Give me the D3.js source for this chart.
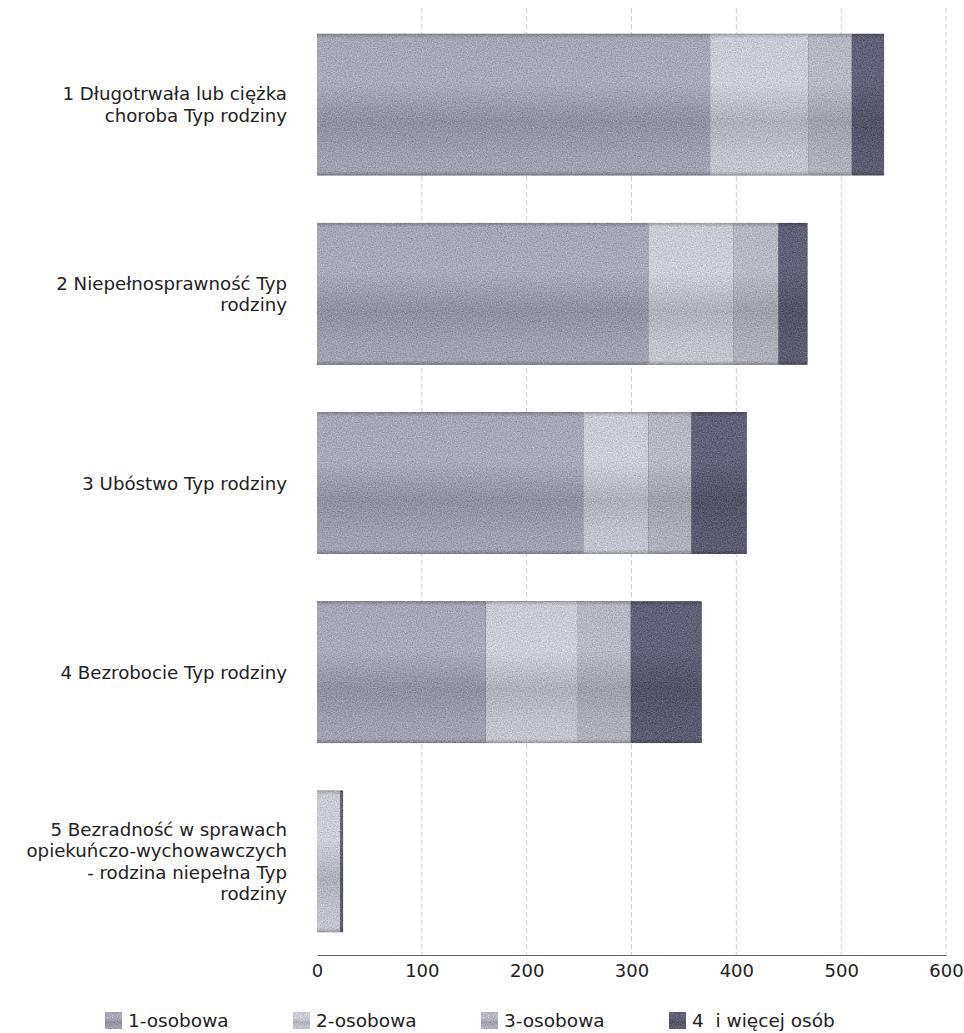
<!DOCTYPE html>
<html>
<head>
<meta charset="utf-8">
<script src="https://cdn.jsdelivr.net/npm/d3@7"></script>
<style>
  html, body { margin: 0; padding: 0; background: #fff; }
  svg { display: block; }
  text { font-family: "DejaVu Sans", "Noto Sans", sans-serif; fill: #222; }
</style>
</head>
<body>
<svg id="chart" width="964" height="1033"></svg>
<script>
// ---- data ----
const categories = [
  ["1 Długotrwała lub ciężka", "choroba Typ rodziny"],
  ["2 Niepełnosprawność Typ", "rodziny"],
  ["3 Ubóstwo Typ rodziny"],
  ["4 Bezrobocie Typ rodziny"],
  ["5 Bezradność w sprawach", "opiekuńczo-wychowawczych", "- rodzina niepełna Typ", "rodziny"]
];
const seriesNames = ["1-osobowa", "2-osobowa", "3-osobowa", "4  i więcej osób"];
const osoba1 = [375, 316, 254, 161, 0];
const osoba2 = [94, 81, 62, 87, 22];
const osoba3 = [41, 43, 41, 51, 0];
const osoba4plus = [31, 28, 53, 68, 3];
const xTicks = [0, 100, 200, 300, 400, 500, 600];

const seriesValues = [osoba1, osoba2, osoba3, osoba4plus];
const seriesColors = ["#9f9fae", "#c2c2cc", "#afafbb", "#5c5c71"];

// ---- build table ----
const catKeys = categories.map((c, i) => "c" + i);
const table = catKeys.map((k, i) => {
  const row = { key: k };
  seriesNames.forEach((s, j) => row[s] = seriesValues[j][i]);
  return row;
});
const stacked = d3.stack().keys(seriesNames)(table);

const svg = d3.select("#chart");

// ---- scales ----
const x = d3.scaleLinear().domain([0, 600]).range([317, 946]);
const y = d3.scaleBand().domain(catKeys).range([10, 956]).paddingInner(0.25).paddingOuter(0.125);

// ---- defs: gradients + grain ----
const defs = svg.append("defs");
seriesColors.forEach((c, i) => {
  const base = d3.color(c);
  const g = defs.append("linearGradient").attr("id", "grad" + i)
    .attr("x1", 0).attr("y1", 0).attr("x2", 0).attr("y2", 1);
  const stops = [
    [0, base.darker(0.6)],
    [0.03, base.brighter(0.12)],
    [0.35, base.brighter(0.18)],
    [0.62, base.darker(0.25)],
    [0.85, base],
    [0.97, base.brighter(0.05)],
    [1, base.darker(0.7)]
  ];
  stops.forEach(([o, col]) => g.append("stop").attr("offset", o).attr("stop-color", col.formatHex()));
});
const f = defs.append("filter").attr("id", "grain")
  .attr("x", 0).attr("y", 0).attr("width", 1).attr("height", 1)
  .attr("color-interpolation-filters", "sRGB");
f.append("feTurbulence").attr("type", "fractalNoise").attr("baseFrequency", 0.8)
  .attr("numOctaves", 2).attr("seed", 4).attr("result", "noise");
f.append("feColorMatrix").attr("in", "noise").attr("type", "matrix")
  .attr("values", "0.33 0.33 0.33 0 0  0.33 0.33 0.33 0 0  0.33 0.33 0.33 0 0  0 0 0 0 1")
  .attr("result", "gray");
f.append("feComposite").attr("in", "gray").attr("in2", "SourceGraphic")
  .attr("operator", "arithmetic").attr("k1", 0).attr("k2", 0.55).attr("k3", 1).attr("k4", -0.275)
  .attr("result", "mix");
f.append("feComposite").attr("in", "mix").attr("in2", "SourceGraphic").attr("operator", "in");

// ---- gridlines ----
svg.append("g").selectAll("line").data(xTicks.filter(t => t > 0)).join("line")
  .attr("x1", d => x(d)).attr("x2", d => x(d))
  .attr("y1", 8).attr("y2", 955)
  .attr("stroke", "#cfcfcf").attr("stroke-width", 1)
  .attr("stroke-dasharray", "5,3");

// ---- bars ----
svg.append("g").selectAll("g").data(stacked).join("g")
  .attr("fill", (d, i) => `url(#grad${i})`)
  .attr("filter", "url(#grain)")
  .selectAll("rect").data(d => d).join("rect")
  .attr("x", d => x(d[0]))
  .attr("y", d => y(d.data.key))
  .attr("width", d => x(d[1]) - x(d[0]))
  .attr("height", y.bandwidth());

// ---- x axis ----
const xAxis = d3.axisBottom(x).tickValues(xTicks).tickSize(0).tickPadding(9).tickFormat(d3.format("d"));
const ax = svg.append("g").attr("transform", "translate(0,955)").call(xAxis);
ax.select(".domain").attr("stroke", "#666").attr("stroke-width", 1.2);
ax.selectAll("text").attr("font-size", 18).attr("fill", "#222")
  .style("font-family", '"DejaVu Sans", "Noto Sans", sans-serif');

// ---- category labels ----
const lineH = 21.6;
const lab = svg.append("g");
categories.forEach((lines, i) => {
  const cy = y(catKeys[i]) + y.bandwidth() / 2;
  const t = lab.append("text").attr("text-anchor", "end").attr("font-size", 18.2);
  lines.forEach((ln, j) => {
    t.append("tspan").attr("x", 287)
      .attr("y", cy + (j - (lines.length - 1) / 2) * lineH + 6.5)
      .text(ln);
  });
});

// ---- legend ----
const legendX = d3.scalePoint().domain(seriesNames).range([105, 669]);
const lg = svg.append("g").selectAll("g").data(seriesNames).join("g")
  .attr("transform", d => `translate(${legendX(d)},1012)`);
lg.append("rect").attr("width", 17).attr("height", 17)
  .attr("fill", (d, i) => `url(#grad${i})`).attr("filter", "url(#grain)");
lg.append("text").attr("x", 23).attr("y", 15).attr("font-size", 18.5)
  .attr("xml:space", "preserve").style("white-space", "pre").text(d => d);
</script>
</body>
</html>
